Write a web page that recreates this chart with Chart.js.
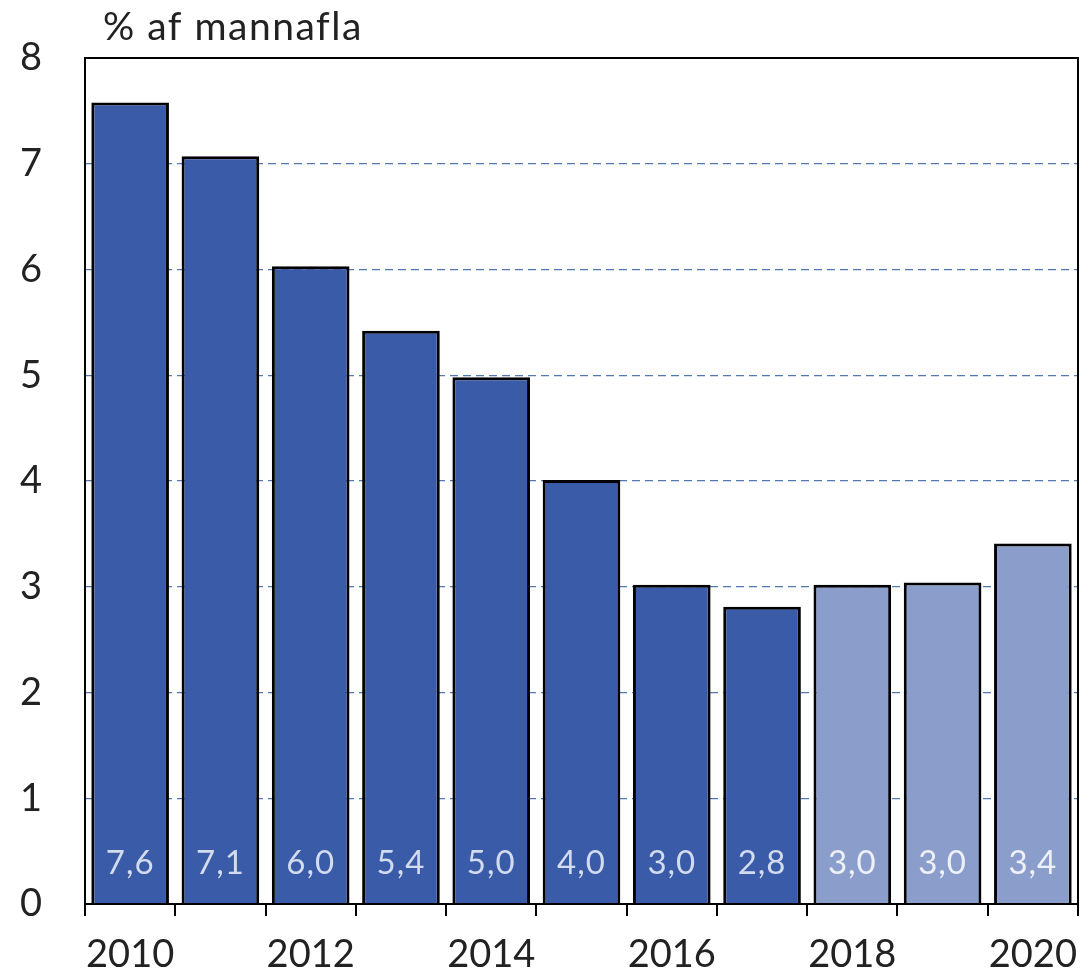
<!DOCTYPE html>
<html>
<head>
<meta charset="utf-8">
<script src="https://cdn.jsdelivr.net/npm/chart.js@4.4.1/dist/chart.umd.min.js"></script>
<style>
  html, body { margin: 0; padding: 0; background: #fff; }
  #wrap { width: 1086px; height: 979px; }
</style>
</head>
<body>
<div id="wrap"><canvas id="myCanvas"></canvas></div>
<script>
// atvinnuleysi, % af mannafla (2018-2020 spá)
const years = ['2010', '2011', '2012', '2013', '2014', '2015', '2016', '2017', '2018', '2019', '2020'];
const values = [7.58, 7.07, 6.03, 5.42, 4.98, 4.01, 3.02, 2.81, 3.02, 3.04, 3.41];
const forecast = [false, false, false, false, false, false, false, false, true, true, true];
const yTicks = [0, 1, 2, 3, 4, 5, 6, 7, 8];
const unitLabel = '% af mannafla';

const FONT = 'Lato, "Open Sans", sans-serif';
const dark = '#3a5ba8';
const light = '#8a9dcb';

const fmt = (v) => v.toFixed(1).replace('.', ',');

const frame = {
  id: 'frame',
  afterDatasetsDraw(chart) {
    const { ctx, chartArea: a } = chart;
    ctx.save();
    ctx.strokeStyle = '#000';
    ctx.lineWidth = 2;
    ctx.strokeRect(a.left, a.top, a.right - a.left, a.bottom - a.top);
    ctx.restore();
  },
};

const barLabels = {
  id: 'barLabels',
  afterDatasetsDraw(chart) {
    const { ctx } = chart;
    const meta = chart.getDatasetMeta(0);
    const y0 = chart.scales.y.getPixelForValue(0);
    ctx.save();
    ctx.font = '33px ' + FONT;
    ctx.letterSpacing = '1px';
    ctx.textAlign = 'center';
    ctx.textBaseline = 'middle';
    meta.data.forEach((bar, i) => {
      ctx.fillStyle = forecast[i] ? '#eef1f8' : '#d3dbef';
      ctx.fillText(fmt(values[i]), bar.x, y0 - 41);
    });
    ctx.restore();
  },
};

const unitTitle = {
  id: 'unitTitle',
  afterDraw(chart) {
    const { ctx, chartArea: a } = chart;
    ctx.save();
    ctx.font = '39px ' + FONT;
    ctx.letterSpacing = '1.5px';
    ctx.fillStyle = '#222';
    ctx.textAlign = 'left';
    ctx.textBaseline = 'middle';
    ctx.fillText(unitLabel, a.left + 18, 27);
    ctx.restore();
  },
};

new Chart(document.getElementById('myCanvas'), {
  type: 'bar',
  data: {
    labels: years,
    datasets: [
      {
        data: values,
        backgroundColor: forecast.map((f) => (f ? light : dark)),
        borderColor: '#000',
        borderWidth: 3,
        barPercentage: 0.86,
        categoryPercentage: 1,
      },
    ],
  },
  options: {
    responsive: true,
    maintainAspectRatio: false,
    animation: false,
    layout: { padding: { top: 58, right: 8, left: 0, bottom: 0 } },
    plugins: {
      legend: { display: false },
      tooltip: { enabled: false },
    },
    scales: {
      x: {
        afterFit: (s) => {
          s.height = 75;
          s.paddingLeft = 0;
          s.paddingRight = 0;
        },
        grid: {
          offset: true,
          drawOnChartArea: false,
          color: '#000',
          lineWidth: 2,
          tickLength: 12,
        },
        border: { color: '#000', width: 2 },
        ticks: {
          autoSkip: false,
          maxRotation: 0,
          padding: 16,
          color: '#222',
          font: { family: FONT, size: 38 },
          callback: function (val, i) {
            const y = years[i];
            return Number(y) % 2 === 0 ? y : '';
          },
        },
      },
      y: {
        min: 0,
        max: 8,
        afterFit: (s) => {
          s.width = 85;
          s.paddingTop = 0;
          s.paddingBottom = 0;
        },
        afterBuildTicks: (s) => { s.ticks = yTicks.map((v) => ({ value: v })); },
        grid: {
          drawTicks: false,
          color: (c) => (c.tick && (c.tick.value === 0 || c.tick.value === 8) ? 'rgba(0,0,0,0)' : '#5278b2'),
          lineWidth: 1.2,
        },
        border: { color: '#000', width: 2, dash: [8, 5] },
        ticks: {
          padding: 43,
          color: '#222',
          font: { family: FONT, size: 38 },
        },
      },
    },
  },
  plugins: [frame, barLabels, unitTitle],
});
</script>
</body>
</html>
